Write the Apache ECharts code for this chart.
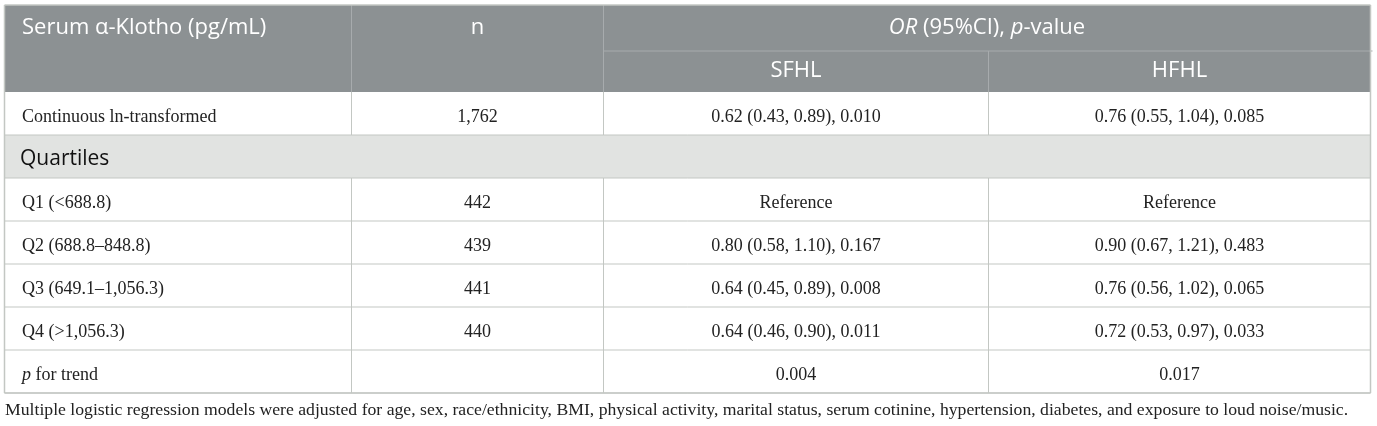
<!DOCTYPE html>
<html>
<head>
<meta charset="utf-8">
<script src="https://cdn.jsdelivr.net/npm/echarts@6/dist/echarts.min.js"></script>
<style>
  html, body { margin: 0; padding: 0; background: #fff; }
  #main { width: 1377px; height: 426px; }
</style>
</head>
<body>
<div id="main"></div>
<script>
// table content
var headTop = ['Serum \u03b1-Klotho (pg/mL)', 'n', '{i|OR} (95%CI), {i|p}-value'];
var headSub = ['SFHL', 'HFHL'];
var rowLabels = ['Continuous ln-transformed', 'Q1 (<688.8)', 'Q2 (688.8\u2013848.8)', 'Q3 (649.1\u20131,056.3)', 'Q4 (>1,056.3)', '{i|p} for trend'];
var nValues = ['1,762', '442', '439', '441', '440', ''];
var sfhlValues = ['0.62 (0.43, 0.89), 0.010', 'Reference', '0.80 (0.58, 1.10), 0.167', '0.64 (0.45, 0.89), 0.008', '0.64 (0.46, 0.90), 0.011', '0.004'];
var hfhlValues = ['0.76 (0.55, 1.04), 0.085', 'Reference', '0.90 (0.67, 1.21), 0.483', '0.76 (0.56, 1.02), 0.065', '0.72 (0.53, 0.97), 0.033', '0.017'];
var groupLabel = 'Quartiles';
var groupAfter = 0; // the group row sits after the first body row
var footnote = 'Multiple logistic regression models were adjusted for age, sex, race/ethnicity, BMI, physical activity, marital status, serum cotinine, hypertension, diabetes, and exposure to loud noise/music.';

// layout
var colX = [4.5, 351.5, 603.5, 988.5, 1370.5];
var headY = [5, 51, 92];
var rowH = 43;
var sans = '"Open Sans", "Noto Sans", sans-serif';
var serif = '"Liberation Serif", "DejaVu Serif", serif';
var headBg = '#8c9193', headLine = '#a7abad', gridLine = '#c3c7c3', groupBg = '#e1e3e1';

var chart = echarts.init(document.getElementById('main'), null, {renderer: 'canvas'});
var g = [];

function line(x1, y1, x2, y2, color, w) {
    g.push({type: 'line', shape: {x1: x1, y1: y1, x2: x2, y2: y2}, style: {stroke: color, lineWidth: w || 1}, z: 5});
}
function rect(x, y, w, h, fill) {
    g.push({type: 'rect', shape: {x: x, y: y, width: w, height: h}, style: {fill: fill}, z: 1});
}
function text(str, x, y, align, font, size, color) {
    g.push({
        type: 'text', x: x, y: y, z: 10,
        style: {
            text: str, fill: color, fontFamily: font, fontSize: size,
            align: align, verticalAlign: 'middle',
            rich: {i: {fontStyle: 'italic', fontFamily: font, fontSize: size, fill: color}}
        }
    });
}
function mid(a, b) { return (a + b) / 2; }

var left = colX[0], right = colX[colX.length - 1];

// header
rect(left, headY[0], right - left, headY[2] - headY[0], headBg);
line(colX[1], headY[0], colX[1], headY[2], headLine);
line(colX[2], headY[0], colX[2], headY[2], headLine);
line(colX[3], headY[1], colX[3], headY[2], headLine);
line(colX[2], headY[1], right + 2, headY[1], headLine);
text(headTop[0], 22, 28, 'left', sans, 22, '#fff');
text(headTop[1], mid(colX[1], colX[2]), 28, 'center', sans, 22, '#fff');
text(headTop[2], mid(colX[2], colX[4]), 28, 'center', sans, 22, '#fff');
text(headSub[0], mid(colX[2], colX[3]), 71, 'center', sans, 22, '#fff');
text(headSub[1], mid(colX[3], colX[4]), 71, 'center', sans, 22, '#fff');

// body rows
var y = headY[2];
rowLabels.forEach(function (lab, i) {
    var cy = y + rowH / 2 + 3.5;
    text(lab, 22, cy, 'left', serif, 18, '#222');
    text(nValues[i], mid(colX[1], colX[2]), cy, 'center', serif, 18, '#222');
    text(sfhlValues[i], mid(colX[2], colX[3]), cy, 'center', serif, 18, '#222');
    text(hfhlValues[i], mid(colX[3], colX[4]), cy, 'center', serif, 18, '#222');
    for (var c = 1; c < colX.length - 1; c++) line(colX[c], y, colX[c], y + rowH, gridLine);
    y += rowH;
    line(left, y, right, y, gridLine);
    if (i === groupAfter) {
        rect(left, y, right - left, rowH, groupBg);
        text(groupLabel, 20, y + rowH / 2 + 2.5, 'left', sans, 21, '#111');
        y += rowH;
        line(left, y, right, y, gridLine);
    }
});

// outer border
line(left, headY[0], right, headY[0], gridLine, 1.5);
line(left, headY[0], left, y, gridLine, 1.5);
line(right, headY[0], right, y, gridLine, 1.5);
line(left, y, right, y, gridLine, 1.5);

text(footnote, 5, 410, 'left', serif, 17.7, '#222');

chart.setOption({backgroundColor: '#fff', animation: false, graphic: g});
</script>
</body>
</html>
